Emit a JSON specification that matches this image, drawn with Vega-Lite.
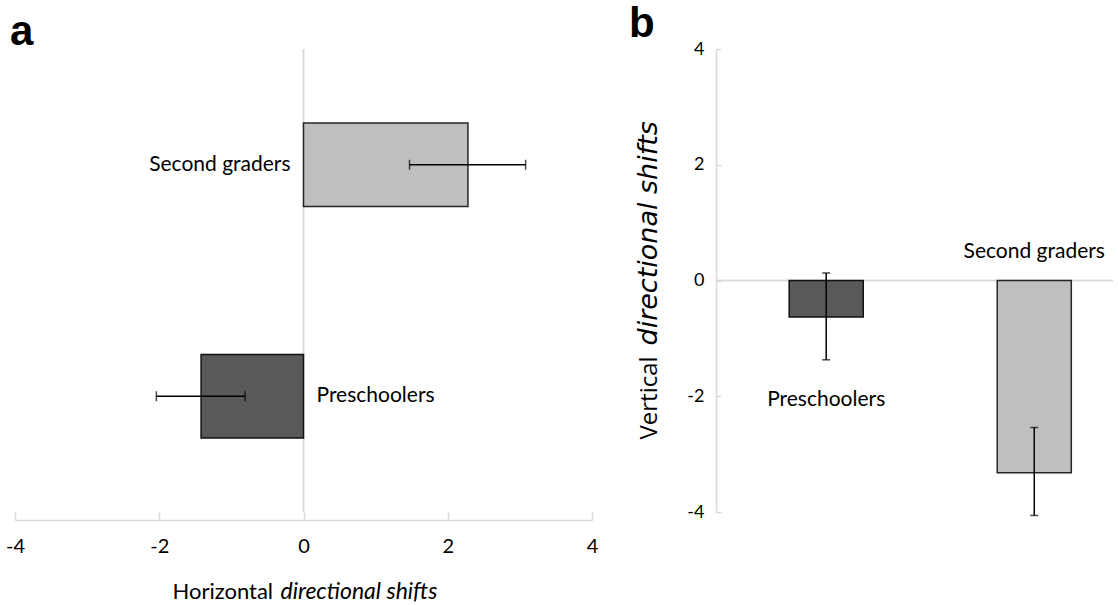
{
  "$schema": "https://vega.github.io/schema/vega-lite/v6.json",
  "background": "white",
  "padding": {"left": 5, "top": 3, "right": 5, "bottom": 0},
  "config": {"view": {"stroke": null}, "font": "Lato", "concat": {"spacing": 30}},
  "datasets": {
    "horiz": [
      {"group": "Second graders", "mean": 2.28, "lo": 1.47, "hi": 3.08},
      {"group": "Preschoolers", "mean": -1.42, "lo": -2.04, "hi": -0.81}
    ],
    "vert": [
      {"group": "Preschoolers", "mean": -0.63, "lo": -1.37, "hi": 0.13},
      {"group": "Second graders", "mean": -3.32, "lo": -4.06, "hi": -2.54}
    ]
  },
  "hconcat": [
    {
      "width": 577,
      "height": 463,
      "title": {"text": "a", "anchor": "start", "frame": "group", "fontSize": 42, "fontWeight": "bold", "font": "Liberation Sans", "dx": -5, "offset": -6, "color": "#000"},
      "data": {"name": "horiz"},
      "layer": [
        {
          "layer": [
            {
              "mark": {"type": "rule", "color": "#d9d9d9", "strokeWidth": 1.5},
              "encoding": {"x": {"datum": 0, "type": "quantitative", "title": "Horizontal"}}
            },
            {
              "mark": {"type": "bar", "strokeWidth": 1.5},
              "encoding": {
                "y": {"field": "group", "type": "nominal", "sort": ["Second graders", "Preschoolers"], "scale": {"paddingInner": 0.64, "paddingOuter": 0.32}, "axis": null},
                "x": {"field": "mean", "type": "quantitative", "title": "Horizontal", "scale": {"domain": [-4, 4]},
                  "axis": {"orient": "bottom", "values": [-4, -2, 0, 2, 4], "labelExpr": "toString(datum.value)", "grid": false, "domainColor": "#d9d9d9", "domainWidth": 1.5, "tickColor": "#d9d9d9", "tickWidth": 1.5, "tickSize": -8, "labelPadding": 24, "labelFontSize": 20, "labelFont": "Lato", "labelColor": "#000", "labelFlush": false, "offset": 8,
                    "titleFont": "Lato", "titleFontSize": 22, "titleFontWeight": "normal", "titleColor": "#000", "titleX": 157, "titleY": 78, "titleAlign": "left", "titleBaseline": "alphabetic"}},
                "fill": {"field": "group", "type": "nominal", "scale": {"domain": ["Preschoolers", "Second graders"], "range": ["#595959", "#bfbfbf"]}, "legend": null},
                "stroke": {"field": "group", "type": "nominal", "scale": {"domain": ["Preschoolers", "Second graders"], "range": ["#111111", "#262626"]}, "legend": null}
              }
            },
            {
              "mark": {"type": "errorbar", "ticks": {"size": 10}, "thickness": 1.5, "color": "#000"},
              "encoding": {
                "y": {"field": "group", "type": "nominal", "sort": ["Second graders", "Preschoolers"]},
                "x": {"field": "lo", "type": "quantitative", "title": "Horizontal"},
                "x2": {"field": "hi"}
              }
            },
            {
              "transform": [{"filter": "datum.group === 'Second graders'"}],
              "mark": {"type": "text", "align": "right", "baseline": "middle", "dx": -13, "fontSize": 21, "font": "Lato", "color": "#000"},
              "encoding": {
                "y": {"field": "group", "type": "nominal", "sort": ["Second graders", "Preschoolers"]},
                "x": {"datum": 0, "type": "quantitative", "title": "Horizontal"},
                "text": {"field": "group"}
              }
            },
            {
              "transform": [{"filter": "datum.group === 'Preschoolers'"}],
              "mark": {"type": "text", "align": "left", "baseline": "middle", "dx": 13, "fontSize": 21, "font": "Lato", "color": "#000"},
              "encoding": {
                "y": {"field": "group", "type": "nominal", "sort": ["Second graders", "Preschoolers"]},
                "x": {"datum": 0, "type": "quantitative", "title": "Horizontal"},
                "text": {"field": "group"}
              }
            }
          ]
        },
        {
          "mark": {"type": "point", "opacity": 0},
          "encoding": {
            "x": {"field": "mean", "type": "quantitative", "title": "directional shifts", "scale": {"domain": [-4, 4]},
              "axis": {"orient": "bottom", "offset": 8, "labels": false, "ticks": false, "domain": false, "grid": false,
                "titleFont": "Lato", "titleFontStyle": "italic", "titleFontSize": 23, "titleFontWeight": "normal", "titleColor": "#000", "titleX": 265, "titleY": 78, "titleAlign": "left", "titleBaseline": "alphabetic"}}
          }
        }
      ],
      "resolve": {"scale": {"x": "independent"}}
    },
    {
      "width": 397,
      "height": 463,
      "title": {"text": "b", "anchor": "start", "frame": "bounds", "fontSize": 42, "fontWeight": "bold", "font": "Liberation Sans", "dx": -5, "offset": -6, "color": "#000"},
      "data": {"name": "vert"},
      "layer": [
        {
          "layer": [
            {
              "mark": {"type": "rule", "color": "#d9d9d9", "strokeWidth": 1.5},
              "encoding": {"y": {"datum": 0, "type": "quantitative", "title": "Vertical"}}
            },
            {
              "mark": {"type": "bar", "strokeWidth": 1.5},
              "encoding": {
                "x": {"field": "group", "type": "nominal", "sort": ["Preschoolers", "Second graders"], "scale": {"paddingInner": 0.644, "paddingOuter": 0.276, "align": 0.637}, "axis": null},
                "y": {"field": "mean", "type": "quantitative", "title": "Vertical", "scale": {"domain": [-4, 4]},
                  "axis": {"orient": "left", "values": [-4, -2, 0, 2, 4], "labelExpr": "toString(datum.value)", "grid": false, "domainColor": "#d9d9d9", "domainWidth": 1.5, "tickColor": "#d9d9d9", "tickWidth": 1.5, "tickSize": -5, "labelPadding": 17, "labelFontSize": 18, "labelFont": "Lato", "labelColor": "#000", "labelFlush": false,
                    "titleFont": "Open Sans", "titleFontSize": 24, "titleFontWeight": "normal", "titleColor": "#000", "titleX": -60, "titleY": 390, "titleAlign": "left", "titleBaseline": "alphabetic", "titleAngle": 270}},
                "fill": {"field": "group", "type": "nominal", "scale": {"domain": ["Preschoolers", "Second graders"], "range": ["#595959", "#bfbfbf"]}, "legend": null},
                "stroke": {"field": "group", "type": "nominal", "scale": {"domain": ["Preschoolers", "Second graders"], "range": ["#111111", "#262626"]}, "legend": null}
              }
            },
            {
              "mark": {"type": "errorbar", "ticks": {"size": 8}, "thickness": 1.5, "color": "#000"},
              "encoding": {
                "x": {"field": "group", "type": "nominal", "sort": ["Preschoolers", "Second graders"]},
                "y": {"field": "lo", "type": "quantitative", "title": "Vertical"},
                "y2": {"field": "hi"}
              }
            },
            {
              "transform": [{"filter": "datum.group === 'Second graders'"}],
              "mark": {"type": "text", "align": "center", "baseline": "middle", "dy": -29, "fontSize": 21, "font": "Lato", "color": "#000"},
              "encoding": {
                "x": {"field": "group", "type": "nominal", "sort": ["Preschoolers", "Second graders"]},
                "y": {"datum": 0, "type": "quantitative", "title": "Vertical"},
                "text": {"field": "group"}
              }
            },
            {
              "transform": [{"filter": "datum.group === 'Preschoolers'"}],
              "mark": {"type": "text", "align": "center", "baseline": "middle", "dy": 40, "fontSize": 21, "font": "Lato", "color": "#000"},
              "encoding": {
                "x": {"field": "group", "type": "nominal", "sort": ["Preschoolers", "Second graders"]},
                "y": {"field": "lo", "type": "quantitative", "title": "Vertical"},
                "text": {"field": "group"}
              }
            }
          ]
        },
        {
          "mark": {"type": "point", "opacity": 0},
          "encoding": {
            "y": {"field": "mean", "type": "quantitative", "title": "directional shifts", "scale": {"domain": [-4, 4]},
              "axis": {"orient": "left", "labels": false, "ticks": false, "domain": false, "grid": false,
                "titleFont": "DejaVu Sans", "titleFontStyle": "italic", "titleFontSize": 27, "titleFontWeight": "normal", "titleColor": "#000", "titleX": -60, "titleY": 296, "titleAlign": "left", "titleBaseline": "alphabetic", "titleAngle": 270}}
          }
        }
      ],
      "resolve": {"scale": {"y": "independent"}}
    }
  ]
}
